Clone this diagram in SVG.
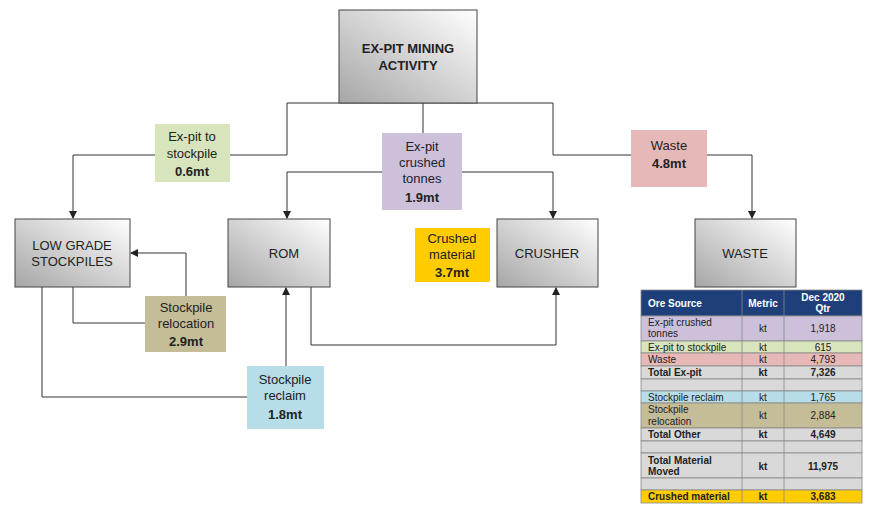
<svg xmlns="http://www.w3.org/2000/svg" width="875" height="515" viewBox="0 0 875 515">
<style>
text{font-family:"Liberation Sans",Arial,sans-serif;fill:#222}
.n{font-size:13px;text-anchor:middle}
.b{font-weight:bold}
.box{stroke:#444;stroke-width:1;fill:url(#g)}
.c{fill:none;stroke:#333;stroke-width:1}
.t{font-size:10px}
.tc{font-size:10px;text-anchor:middle}
.cell{stroke:#888;stroke-width:0.8}
</style>
<defs>
<linearGradient id="g" x1="1" y1="0" x2="0" y2="1"><stop offset="0" stop-color="#ffffff"/><stop offset="1" stop-color="#a6a6a6"/></linearGradient>
<marker id="a" markerWidth="8" markerHeight="8" refX="7" refY="4" orient="auto" markerUnits="userSpaceOnUse"><path d="M0,0 L8,4 L0,8 Z" fill="#222"/></marker>
</defs>
<g id="connectors">
<path class="c" d="M287,103 H553"/>
<path class="c" d="M287,103 V155 H73 V218" marker-end="url(#a)"/>
<path class="c" d="M553,103 V155 H752 V218" marker-end="url(#a)"/>
<path class="c" d="M423,103 V133"/>
<path class="c" d="M382,172 H287 V218" marker-end="url(#a)"/>
<path class="c" d="M462,172 H553 V218" marker-end="url(#a)"/>
<path class="c" d="M73,287 V323 H145"/>
<path class="c" d="M186,296 V253 H131" marker-end="url(#a)"/>
<path class="c" d="M42,287 V397 H247"/>
<path class="c" d="M286,366 V288" marker-end="url(#a)"/>
<path class="c" d="M311,287 V345 H556 V288" marker-end="url(#a)"/>
</g>
<g id="expit"><rect class="box" x="339" y="10" width="138" height="93"/><text class="n b" x="408" y="53">EX-PIT MINING</text><text class="n b" x="408" y="70">ACTIVITY</text></g>
<g id="lowgrade"><rect class="box" x="15" y="219" width="115" height="68"/><text class="n" x="72" y="250">LOW GRADE</text><text class="n" x="72" y="266">STOCKPILES</text></g>
<g id="rom"><rect class="box" x="228" y="219" width="102" height="68"/><text class="n" x="284" y="258">ROM</text></g>
<g id="crusher"><rect class="box" x="497" y="219" width="101" height="68"/><text class="n" x="547" y="258">CRUSHER</text></g>
<g id="waste"><rect class="box" x="695" y="219" width="101" height="68"/><text class="n" x="745" y="258">WASTE</text></g>
<g id="l1"><rect x="155" y="124" width="75" height="58" fill="#d8e4bc"/><text class="n" x="192" y="141">Ex-pit to</text><text class="n" x="192" y="158">stockpile</text><text class="n b" x="192" y="176" font-size="15">0.6mt</text></g>
<g id="l2"><rect x="382" y="133" width="80" height="77" fill="#ccc0da"/><text class="n" x="422" y="151">Ex-pit</text><text class="n" x="422" y="167">crushed</text><text class="n" x="422" y="183">tonnes</text><text class="n b" x="422" y="202" font-size="15">1.9mt</text></g>
<g id="l3"><rect x="631" y="130" width="76" height="57" fill="#e6b9b8"/><text class="n" x="669" y="150">Waste</text><text class="n b" x="669" y="168" font-size="15">4.8mt</text></g>
<g id="l4"><rect x="415" y="228" width="75" height="54" fill="#ffcc00"/><text class="n" x="452" y="243">Crushed</text><text class="n" x="452" y="259">material</text><text class="n b" x="452" y="277" font-size="15">3.7mt</text></g>
<g id="l5"><rect x="145" y="296" width="81" height="56" fill="#c4bd97"/><text class="n" x="186" y="312">Stockpile</text><text class="n" x="186" y="328">relocation</text><text class="n b" x="186" y="346" font-size="15">2.9mt</text></g>
<g id="l6"><rect x="247" y="366" width="77" height="63" fill="#b7dde8"/><text class="n" x="285" y="384">Stockpile</text><text class="n" x="285" y="400">reclaim</text><text class="n b" x="285" y="419" font-size="15">1.8mt</text></g>
<g id="table">
<rect class="cell" x="641" y="290" width="221" height="26" fill="#1f3f7a"/>
<text class="t b" x="648" y="307" style="fill:#fff">Ore Source</text><text class="tc b" x="763" y="307" style="fill:#fff">Metric</text><text class="tc b" x="823" y="301" style="fill:#fff">Dec 2020</text><text class="tc b" x="823" y="312" style="fill:#fff">Qtr</text>
<g class="cell">
<rect x="641" y="316" width="221" height="25" fill="#ccc0da"/>
<rect x="641" y="341" width="221" height="12" fill="#d8e4bc"/>
<rect x="641" y="353" width="221" height="13" fill="#e6b9b8"/>
<rect x="641" y="366" width="221" height="13" fill="#d9d9d9"/>
<rect x="641" y="379" width="221" height="12" fill="#d9d9d9"/>
<rect x="641" y="391" width="221" height="12" fill="#b7dde8"/>
<rect x="641" y="403" width="221" height="25" fill="#c4bd97"/>
<rect x="641" y="428" width="221" height="13" fill="#d9d9d9"/>
<rect x="641" y="441" width="221" height="12" fill="#d9d9d9"/>
<rect x="641" y="453" width="221" height="25" fill="#d9d9d9"/>
<rect x="641" y="478" width="221" height="12" fill="#d9d9d9"/>
<rect x="641" y="490" width="221" height="13" fill="#ffcc00"/>
<path d="M742,290 V503 M784,290 V503" fill="none"/>
</g>
<text class="t" x="648" y="326">Ex-pit crushed</text><text class="t" x="648" y="337">tonnes</text><text class="tc" x="763" y="332">kt</text><text class="tc" x="823" y="332">1,918</text>
<text class="t" x="648" y="351">Ex-pit to stockpile</text><text class="tc" x="763" y="351">kt</text><text class="tc" x="823" y="351">615</text>
<text class="t" x="648" y="363">Waste</text><text class="tc" x="763" y="363">kt</text><text class="tc" x="823" y="363">4,793</text>
<text class="t b" x="648" y="376">Total Ex-pit</text><text class="tc b" x="763" y="376">kt</text><text class="tc b" x="823" y="376">7,326</text>
<text class="t" x="648" y="401">Stockpile reclaim</text><text class="tc" x="763" y="401">kt</text><text class="tc" x="823" y="401">1,765</text>
<text class="t" x="648" y="413">Stockpile</text><text class="t" x="648" y="425">relocation</text><text class="tc" x="763" y="419">kt</text><text class="tc" x="823" y="419">2,884</text>
<text class="t b" x="648" y="438">Total Other</text><text class="tc b" x="763" y="438">kt</text><text class="tc b" x="823" y="438">4,649</text>
<text class="t b" x="648" y="464">Total Material</text><text class="t b" x="648" y="475">Moved</text><text class="tc b" x="763" y="470">kt</text><text class="tc b" x="823" y="470">11,975</text>
<text class="t b" x="648" y="500">Crushed material</text><text class="tc b" x="763" y="500">kt</text><text class="tc b" x="823" y="500">3,683</text>
</g>
</svg>
